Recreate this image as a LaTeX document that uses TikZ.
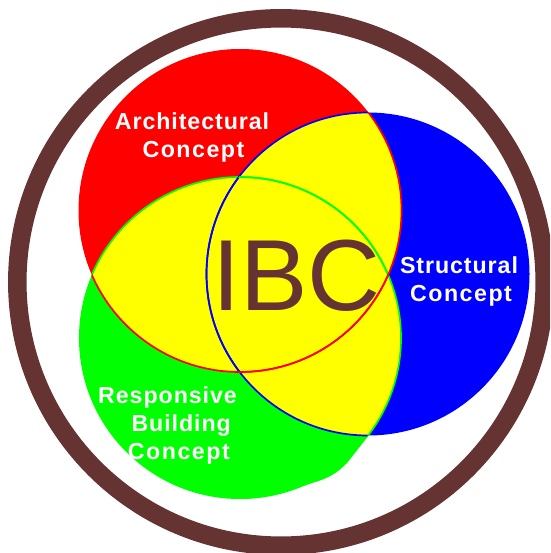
\documentclass[tikz,border=0pt]{standalone}
\usepackage{fontspec}
\setmainfont{Liberation Sans}
\newfontfamily\spacedbold[LetterSpace=4]{Liberation Sans Bold}
\newfontfamily\widebold[LetterSpace=6.5]{Liberation Sans Bold}
\definecolor{ringbrown}{HTML}{663333}
\definecolor{fillred}{HTML}{FF0000}
\definecolor{fillgreen}{HTML}{00FF00}
\definecolor{fillblue}{HTML}{0000FF}
\definecolor{fillyellow}{HTML}{FFFF00}
\def\redc{(240,-210.5) circle (161.5)}
\def\greenc{(240,-338) circle (161)}
\def\bluec{(368,-274) circle (161.5)}
\tikzset{
  x=1pt,y=1pt,
  conceptlabel/.style={text=white,font=\spacedbold\fontsize{23.2}{28}\selectfont,align=center,inner sep=0pt},
  core/.style={text=ringbrown,font=\fontsize{101}{101}\selectfont,inner sep=0pt},
  arcline/.style={line width=1.7pt}
}
\begin{document}
\begin{tikzpicture}
\useasboundingbox (0,0) rectangle (550,-553);
\clip (0,0) rectangle (550,-553);
\fill[white] (0,0) rectangle (550,-553);
\draw[ringbrown,line width=18.5pt] (281,-282) circle (263.7);
\fill[fillblue] \bluec;
\fill[fillred] \redc;
\fill[fillgreen] \greenc;
\fill[fillgreen] (369,-435) -- (347,-463) .. controls (338,-472) and (330,-478) .. (312,-483) -- (297,-488) .. controls (280,-494) and (263,-498) .. (240,-499) -- (240,-400) -- cycle;
\begin{scope}\clip \redc; \fill[fillyellow] \greenc; \fill[fillyellow] \bluec; \end{scope}
\begin{scope}\clip \greenc; \fill[fillyellow] \bluec; \end{scope}
\begin{scope}\clip \redc; \draw[fillgreen,arcline] \greenc; \draw[fillblue,arcline] \bluec; \end{scope}
\begin{scope}\clip \greenc; \draw[fillblue,arcline] \bluec; \end{scope}
\begin{scope}\clip \bluec; \draw[fillgreen,arcline] \greenc; \draw[fillred,arcline] \redc; \end{scope}
\begin{scope}\clip \greenc; \draw[fillred,arcline] \redc; \end{scope}
\node[conceptlabel] (arch) at (192,-138) {Architectural\\\hspace*{3pt}{\widebold Concept}};
\node[conceptlabel] (struct) at (459,-281) {Structural\\\hspace*{4pt}{\widebold Concept}};
\node[conceptlabel,align=right] (resp) at (167.5,-425) {Responsive\\Building\rule{6pt}{0pt}\\{\widebold Concept}\hspace*{7pt}};
\node[core] (ibc) at (296.5,-275.5) {IBC};
\end{tikzpicture}
\end{document}
